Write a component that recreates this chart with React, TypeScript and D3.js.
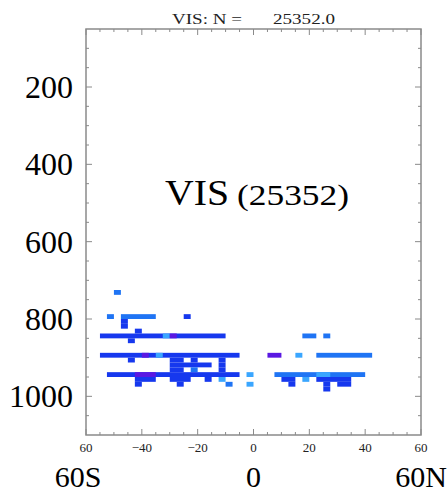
import React from "react";
import * as d3 from "d3";

// ---- data ----
const LAT_DOMAIN = [-60, 60];
const P_DOMAIN = [50, 1100];
const LAT_TICKS = [-60, -40, -20, 0, 20, 40, 60];
const LAT_TICK_LABELS = ["60", "\u221240", "\u221220", "0", "20", "40", "60"];
const P_TICKS = [200, 400, 600, 800, 1000];
const REGION_LABELS = ["60S", "0", "60N"];
const REGION_LATS = [-60, 0, 60];
const P_BIN = 12.5;

// color level per count class
const LEVEL_COLORS = ["#ffffff", "#3aa6ff", "#1f74f4", "#1638ee", "#5a18e2"];

// segments: [pressure top (hPa), lat start, lat end, level]
const SOUTH_SEGMENTS: [number, number, number, number][] = [
  [725, -50, -47.5, 2],
  [787.5, -52.5, -50, 2],
  [787.5, -47.5, -35, 2],
  [787.5, -25, -22.5, 3],
  [800, -47.5, -45, 3],
  [812.5, -47.5, -45, 3],
  [825, -42.5, -40, 3],
  [837.5, -55, -10, 3],
  [837.5, -32.5, -30, 1],
  [837.5, -30, -27.5, 4],
  [850, -45, -42.5, 3],
  [887.5, -55, -5, 3],
  [887.5, -40, -37.5, 4],
  [887.5, -35, -32.5, 1],
  [900, -45, -42.5, 3],
  [900, -30, -25, 3],
  [900, -22.5, -20, 3],
  [900, -12.5, -10, 3],
  [912.5, -30, -15, 3],
  [912.5, -12.5, -10, 3],
  [925, -30, -25, 3],
  [925, -22.5, -20, 2],
  [925, -12.5, -10, 3],
  [937.5, -52.5, -5, 3],
  [937.5, -42.5, -35, 4],
  [937.5, -2.5, 0, 1],
  [950, -42.5, -35, 3],
  [950, -30, -22.5, 3],
  [950, -17.5, -15, 3],
  [950, -12.5, -10, 1],
  [962.5, -42.5, -40, 3],
  [962.5, -27.5, -25, 3],
  [962.5, -10, -7.5, 2],
  [962.5, -2.5, 0, 1],
];

const NORTH_SEGMENTS: [number, number, number, number][] = [
  [837.5, 17.5, 22.5, 2],
  [837.5, 25, 27.5, 2],
  [887.5, 5, 10, 4],
  [887.5, 15, 17.5, 1],
  [887.5, 22.5, 42.5, 2],
  [937.5, 7.5, 40, 2],
  [937.5, 22.5, 27.5, 1],
  [950, 10, 15, 3],
  [950, 17.5, 20, 1],
  [950, 22.5, 35, 3],
  [962.5, 12.5, 15, 3],
  [962.5, 25, 27.5, 3],
  [962.5, 30, 35, 3],
  [975, 25, 27.5, 3],
];

const TITLE_LEFT = "VIS: N =";
const TITLE_RIGHT = "25352.0";
const PANEL_NAME = "VIS";
const PANEL_COUNT = "(25352)";

const SERIF = "'Liberation Serif', 'Times New Roman', serif";

export default function App() {
  const W = 447;
  const H = 492;
  const left = 86;
  const right = 421;
  const top = 29;
  const bottom = 435;

  const x = d3.scaleLinear().domain(LAT_DOMAIN).range([left, right]);
  const y = d3.scaleLinear().domain(P_DOMAIN).range([top, bottom]);

  const xMinor = d3.range(LAT_DOMAIN[0], LAT_DOMAIN[1] + 0.01, 5);
  const yMinor = d3.range(100, 1100, 50);
  const axisColor = "#8a8a8a";

  const segs = [...SOUTH_SEGMENTS, ...NORTH_SEGMENTS];
  const regionOffsets = [-8, 0, 0];

  return (
    <svg
      width={W}
      height={H}
      style={{ position: "absolute", left: 0, top: 0, background: "#fff" }}
    >
      {/* data cells */}
      {segs.map((s, i) => (
        <rect
          key={i}
          x={x(s[1])}
          y={y(s[0])}
          width={x(s[2]) - x(s[1])}
          height={y(s[0] + P_BIN) - y(s[0])}
          fill={LEVEL_COLORS[s[3]]}
        />
      ))}

      {/* frame */}
      <rect
        x={left}
        y={top}
        width={right - left}
        height={bottom - top}
        fill="none"
        stroke={axisColor}
        strokeWidth={1.5}
      />

      {/* x ticks, top and bottom, inward */}
      {xMinor.map((v) => {
        const major = v % 20 === 0;
        const len = major ? 6 : 3;
        return (
          <g key={"xt" + v} stroke={axisColor} strokeWidth={1}>
            <line x1={x(v)} x2={x(v)} y1={bottom} y2={bottom - len} />
            <line x1={x(v)} x2={x(v)} y1={top} y2={top + len} />
          </g>
        );
      })}
      {/* y ticks, left and right, inward */}
      {yMinor.map((v) => {
        const major = v % 200 === 0;
        const len = major ? 6 : 3;
        return (
          <g key={"yt" + v} stroke={axisColor} strokeWidth={1}>
            <line x1={left} x2={left + len} y1={y(v)} y2={y(v)} />
            <line x1={right} x2={right - len} y1={y(v)} y2={y(v)} />
          </g>
        );
      })}

      {/* x tick labels */}
      {LAT_TICKS.map((v, i) => (
        <text
          key={"xl" + v}
          x={x(v)}
          y={452}
          textAnchor="middle"
          fontFamily={SERIF}
          fontSize={13}
          fill="#222"
        >
          {LAT_TICK_LABELS[i]}
        </text>
      ))}

      {/* y tick labels */}
      {P_TICKS.map((v) => (
        <text
          key={"yl" + v}
          x={73}
          y={y(v) + 11}
          textAnchor="end"
          fontFamily={SERIF}
          fontSize={32}
          fill="#000"
        >
          {v}
        </text>
      ))}

      {/* region labels */}
      {REGION_LABELS.map((t, i) => (
        <text
          key={"rl" + t}
          x={x(REGION_LATS[i]) + regionOffsets[i]}
          y={487}
          textAnchor="middle"
          fontFamily={SERIF}
          fontSize={30}
          fill="#000"
        >
          {t}
        </text>
      ))}

      {/* title */}
      <text
        x={172}
        y={24}
        fontFamily={SERIF}
        fontSize={14}
        fill="#222"
        textLength={70}
        lengthAdjust="spacingAndGlyphs"
      >
        {TITLE_LEFT}
      </text>
      <text
        x={273}
        y={24}
        fontFamily={SERIF}
        fontSize={14}
        fill="#222"
        textLength={62}
        lengthAdjust="spacingAndGlyphs"
      >
        {TITLE_RIGHT}
      </text>

      {/* panel label */}
      <text
        x={165}
        y={205}
        fontFamily={SERIF}
        fontSize={36}
        fill="#000"
        textLength={64}
        lengthAdjust="spacingAndGlyphs"
      >
        {PANEL_NAME}
      </text>
      <text
        x={237}
        y={205}
        fontFamily={SERIF}
        fontSize={29}
        fill="#000"
        textLength={112}
        lengthAdjust="spacingAndGlyphs"
      >
        {PANEL_COUNT}
      </text>
    </svg>
  );
}
